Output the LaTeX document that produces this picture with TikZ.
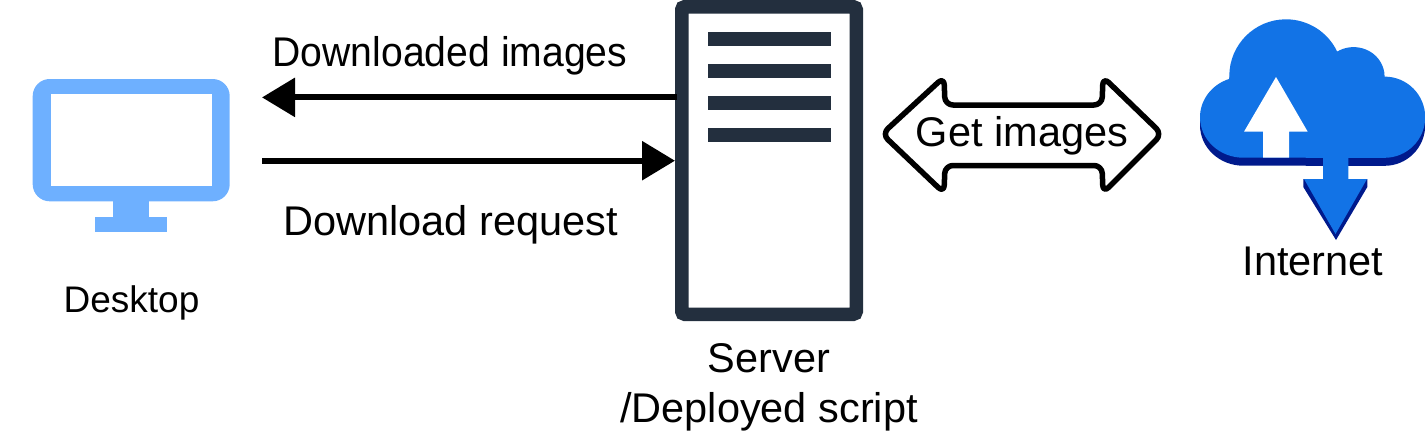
\documentclass[tikz,border=0pt]{standalone}
\usepackage{fontspec}
\setmainfont{Liberation Sans}
\usetikzlibrary{arrows.meta}
\definecolor{deskblue}{HTML}{6EB0FF}
\definecolor{servnavy}{HTML}{232F3E}
\definecolor{cloudblue}{HTML}{1273E6}
\definecolor{cloudshade}{HTML}{001A8C}
\tikzset{
  x=1pt,y=-1pt,
  lbl/.style={anchor=base,inner sep=0pt,font=\fontsize{41.5}{48}\selectfont},
  flow/.style={line width=6pt,-{Triangle[length=33pt,width=38pt]}},
  bar/.style={fill=servnavy,draw=none},
  servbox/.style={draw=servnavy,line width=13.5pt,rounded corners=3pt,fill=white,minimum width=174.5pt,minimum height=307.5pt,inner sep=0pt,outer sep=0pt,anchor=north west},
  cloudtop/.style={fill=cloudblue,draw=none},
  cloudlow/.style={fill=cloudshade,draw=none}
}
\newcommand{\cloudshape}{
  (1229.3,76) arc[start angle=180,end angle=334.5,radius=56.7]
  arc[start angle=238,end angle=360,x radius=31,y radius=29.5]
  arc[start angle=270,end angle=450,radius=40.6]
  -- (1243.3,157.7)
  arc[start angle=90,end angle=251,x radius=43.3,y radius=40.5]
  -- cycle
}
\begin{document}
\begin{tikzpicture}
\useasboundingbox (0,0) rectangle (1425,431);
% desktop icon
\fill[deskblue,rounded corners=17pt] (32.7,79) rectangle (229.7,201.3);
\fill[white] (50.7,94.3) rectangle (211.7,186.3);
\fill[deskblue] (113.3,200) rectangle (149,217);
\fill[deskblue] (95.3,216.7) rectangle (167,232.3);
\coordinate (deskin) at (262,97.4);
\coordinate (deskout) at (262,160.7);
\node[lbl,font=\fontsize{37}{44}\selectfont] (desktop) at (131.5,312) {Desktop};
% server
\node[servbox] (server) at (681.75,6.75) {};
\fill[bar] (708,32.3) rectangle (830.5,46);
\fill[bar] (708,64.3) rectangle (830.5,78);
\fill[bar] (708,96.3) rectangle (830.5,110);
\fill[bar] (708,128.3) rectangle (830.5,142);
\coordinate (servout) at (677,97.4);
\coordinate (servin) at (675,160.7);
\node[lbl] (s1) at (769,372) {Server};
\node[lbl] (s2) at (769,422) {/Deployed script};
% flows
\draw[flow] (servout) -- (deskin);
\draw[flow] (deskout) -- (servin);
\node[lbl,xscale=0.943] (dlimg) at (450,66) {Downloaded images};
\node[lbl] (dlreq) at (450.5,235) {Download request};
% double arrow
\draw[line width=5.5pt,rounded corners=8pt,fill=white,line join=round]
  (882,134) -- (944,77) -- (945,105) -- (1102,105) -- (1103,77) -- (1162,134)
  -- (1103,193) -- (1102,165.5) -- (945,165.5) -- (944,193) -- cycle;
\node[lbl] (get) at (1022,146) {Get images};
% cloud
\begin{scope}[yshift=-8pt]
\fill[cloudlow] \cloudshape;
\end{scope}
\fill[cloudtop] \cloudshape;
\fill[white] (1276,77) -- (1307.7,131.7) -- (1289,131.7) -- (1289,157.7) -- (1263,157.7) -- (1263,131.7) -- (1244,131.7) -- cycle;
\fill[cloudlow] (1303.3,179) -- (1367.3,179) -- (1367.3,187) -- (1336,240) -- (1303.3,187) -- cycle;
\fill[cloudtop] (1323,157) -- (1348.3,157) -- (1348.3,179) -- (1367,179) -- (1335.5,234) -- (1304,179) -- (1323,179) -- cycle;
\node[lbl] (net) at (1313,275) {Internet};
\end{tikzpicture}
\end{document}
